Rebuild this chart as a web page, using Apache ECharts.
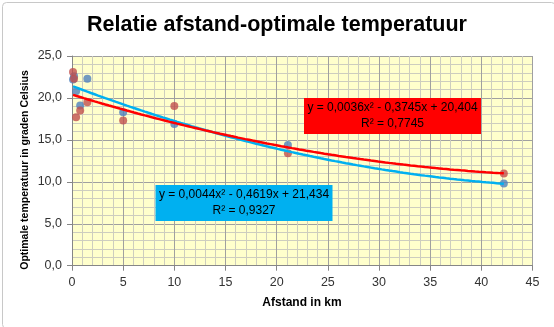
<!DOCTYPE html>
<html>
<head>
<meta charset="utf-8">
<script src="https://cdn.jsdelivr.net/npm/echarts@6/dist/echarts.min.js"></script>
<style>
html,body{margin:0;padding:0;background:#fff;}
#c{width:554px;height:327px;}
</style>
</head>
<body>
<div id="c"></div>
<script>
// Data (distance in km, optimal temperature in °C)
var distBlue = [0.1, 0.2, 0.4, 0.8, 1.5, 5, 10, 21.1, 42.2];
var tempBlue = [22.2, 22.6, 20.8, 19.1, 22.3, 18.3, 16.9, 14.4, 9.8];
var distRed  = [0.1, 0.2, 0.4, 0.8, 1.5, 5, 10, 21.1, 42.2];
var tempRed  = [23.1, 22.3, 17.7, 18.5, 19.5, 17.3, 19.05, 13.4, 11.0];
// Polynomial trendline coefficients [a, b, c] for y = a x^2 + b x + c
var coefBlue = [0.0044, -0.4619, 21.434];
var coefRed  = [0.0036, -0.3745, 20.404];
var labelBlue = "y = 0,0044x² - 0,4619x + 21,434\nR² = 0,9327";
var labelRed  = "y = 0,0036x² - 0,3745x + 20,404\nR² = 0,7745";
var xTicks = [0, 45, 5];
var yTicks = [0, 25, 5];

function pairs(xs, ys){ return xs.map(function(x,i){return [x, ys[i]];}); }
function trend(coef, x0, x1){
  var out = [], n = 120;
  for (var i = 0; i <= n; i++){
    var x = x0 + (x1 - x0) * i / n;
    out.push([x, coef[0]*x*x + coef[1]*x + coef[2]]);
  }
  return out;
}

var chart = echarts.init(document.getElementById('c'));
var font = "'Liberation Sans', Arial, sans-serif";
var option = {
  animation: false,
  backgroundColor: '#fff',
  grid: {left: 72, right: 21.5, top: 56, bottom: 61.3, show: true, backgroundColor: '#FFFFCC', borderWidth: 0},
  xAxis: {
    type: 'value', min: xTicks[0], max: xTicks[1], interval: xTicks[2],
    axisLine: {show: true, lineStyle: {color: '#868686', width: 1}},
    axisTick: {show: true, length: 5, lineStyle: {color: '#868686'}},
    axisLabel: {color: '#333', fontSize: 12.5, fontFamily: font, margin: 10},
    splitLine: {show: true, lineStyle: {color: '#A0A0A0', width: 1}},
    minorTick: {show: false, splitNumber: 5},
    minorSplitLine: {show: true, lineStyle: {color: '#CDCDBF', width: 1}}
  },
  yAxis: {
    type: 'value', min: yTicks[0], max: yTicks[1], interval: yTicks[2],
    axisLine: {show: true, lineStyle: {color: '#868686', width: 1}},
    axisTick: {show: true, length: 5, lineStyle: {color: '#868686'}},
    axisLabel: {color: '#333', fontSize: 12.5, fontFamily: font, margin: 10,
      formatter: function(v){ return v.toFixed(1).replace('.', ','); }},
    splitLine: {show: true, lineStyle: {color: '#A0A0A0', width: 1}},
    minorTick: {show: false, splitNumber: 5},
    minorSplitLine: {show: true, lineStyle: {color: '#CDCDBF', width: 1}}
  },
  series: [
    {type: 'scatter', name: 'blauw', data: pairs(distBlue, tempBlue), symbolSize: 8,
      itemStyle: {color: '#4F81BD'}, z: 2},
    {type: 'scatter', name: 'rood', data: pairs(distRed, tempRed), symbolSize: 8,
      itemStyle: {color: '#C0504D'}, z: 3},
    {type: 'line', data: trend(coefBlue, Math.min.apply(null, distBlue), Math.max.apply(null, distBlue)),
      showSymbol: false, smooth: false, lineStyle: {color: '#00B0F0', width: 2.5}, z: 4},
    {type: 'line', data: trend(coefRed, Math.min.apply(null, distRed), Math.max.apply(null, distRed)),
      showSymbol: false, smooth: false, lineStyle: {color: '#FF0000', width: 2.5}, z: 5}
  ],
  graphic: [
    {type: 'rect', left: 0, top: 0, z: 100, silent: true,
      shape: {x: 0.5, y: 0.5, width: 553, height: 326, r: 4},
      style: {fill: 'none', stroke: '#C8C8C8', lineWidth: 1}},
    {type: 'text', x: 277, y: 25, z: 100,
      style: {text: 'Relatie afstand-optimale temperatuur', font: "bold 21.5px " + font,
        fill: '#000', align: 'center', verticalAlign: 'middle'}},
    {type: 'text', x: 25, y: 170, rotation: Math.PI/2, z: 100,
      style: {text: 'Optimale temperatuur in graden Celsius', font: "bold 10.5px " + font,
        fill: '#000', align: 'center', verticalAlign: 'middle'}},
    {type: 'text', x: 302, y: 303, z: 100,
      style: {text: 'Afstand in km', font: "bold 12px " + font,
        fill: '#000', align: 'center', verticalAlign: 'middle'}},
    {type: 'rect', z: 100, shape: {x: 304, y: 98, width: 177, height: 36}, style: {fill: '#FF0000'}},
    {type: 'text', x: 392.5, y: 116, z: 101,
      style: {text: labelRed, font: "12px " + font, lineHeight: 16, fill: '#000', align: 'center', verticalAlign: 'middle'}},
    {type: 'rect', z: 100, shape: {x: 155.5, y: 185, width: 177, height: 36}, style: {fill: '#00B0F0'}},
    {type: 'text', x: 244, y: 203, z: 101,
      style: {text: labelBlue, font: "12px " + font, lineHeight: 16, fill: '#000', align: 'center', verticalAlign: 'middle'}}
  ]
};
chart.setOption(option);
</script>
</body>
</html>
